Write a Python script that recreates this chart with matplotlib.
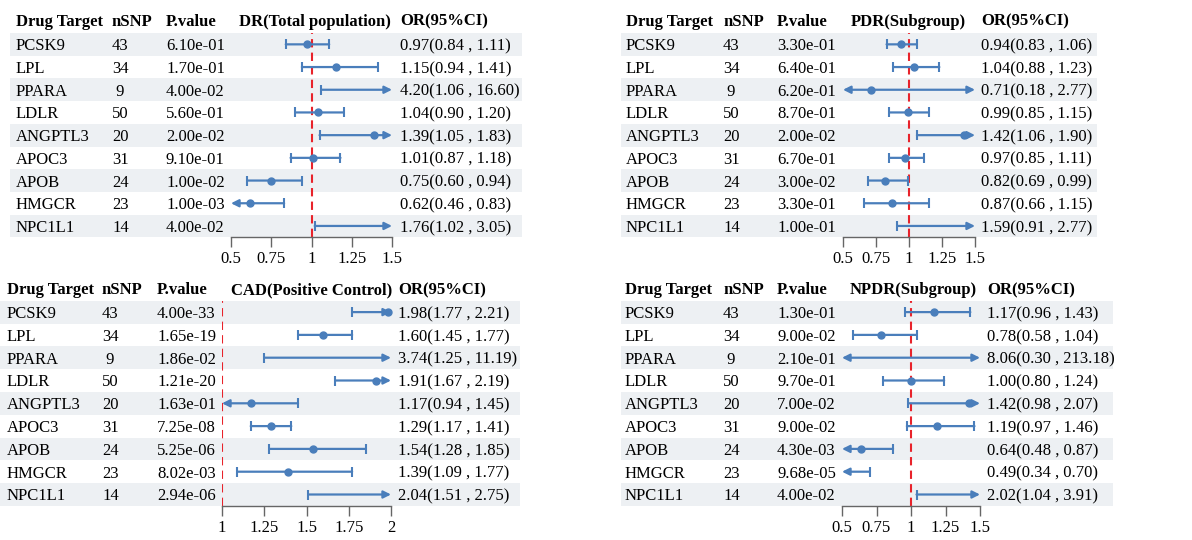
import numpy as np
import matplotlib
matplotlib.use("Agg")
import matplotlib.pyplot as plt

plt.rcParams['font.family'] = ['Liberation Serif', 'DejaVu Serif']

# ---- data ----
targets = ["PCSK9", "LPL", "PPARA", "LDLR", "ANGPTL3", "APOC3", "APOB", "HMGCR", "NPC1L1"]
nsnp = [43, 34, 9, 50, 20, 31, 24, 23, 14]

dr_p = [6.10e-01, 1.70e-01, 4.00e-02, 5.60e-01, 2.00e-02, 9.10e-01, 1.00e-02, 1.00e-03, 4.00e-02]
dr_or = [0.97, 1.15, 4.20, 1.04, 1.39, 1.01, 0.75, 0.62, 1.76]
dr_lo = [0.84, 0.94, 1.06, 0.90, 1.05, 0.87, 0.60, 0.46, 1.02]
dr_hi = [1.11, 1.41, 16.60, 1.20, 1.83, 1.18, 0.94, 0.83, 3.05]

pdr_p = [3.30e-01, 6.40e-01, 6.20e-01, 8.70e-01, 2.00e-02, 6.70e-01, 3.00e-02, 3.30e-01, 1.00e-01]
pdr_or = [0.94, 1.04, 0.71, 0.99, 1.42, 0.97, 0.82, 0.87, 1.59]
pdr_lo = [0.83, 0.88, 0.18, 0.85, 1.06, 0.85, 0.69, 0.66, 0.91]
pdr_hi = [1.06, 1.23, 2.77, 1.15, 1.90, 1.11, 0.99, 1.15, 2.77]

cad_p = [4.00e-33, 1.65e-19, 1.86e-02, 1.21e-20, 1.63e-01, 7.25e-08, 5.25e-06, 8.02e-03, 2.94e-06]
cad_or = [1.98, 1.60, 3.74, 1.91, 1.17, 1.29, 1.54, 1.39, 2.04]
cad_lo = [1.77, 1.45, 1.25, 1.67, 0.94, 1.17, 1.28, 1.09, 1.51]
cad_hi = [2.21, 1.77, 11.19, 2.19, 1.45, 1.41, 1.85, 1.77, 2.75]

npdr_p = [1.30e-01, 9.00e-02, 2.10e-01, 9.70e-01, 7.00e-02, 9.00e-02, 4.30e-03, 9.68e-05, 4.00e-02]
npdr_or = [1.17, 0.78, 8.06, 1.00, 1.42, 1.19, 0.64, 0.49, 2.02]
npdr_lo = [0.96, 0.58, 0.30, 0.80, 0.98, 0.97, 0.48, 0.34, 1.04]
npdr_hi = [1.43, 1.04, 213.18, 1.24, 2.07, 1.46, 0.87, 0.70, 3.91]

ticks_or = [0.5, 0.75, 1, 1.25, 1.5]
ticks_cad = [1, 1.25, 1.5, 1.75, 2]

# ---- layout (pixels) ----
W, H = 1192, 540
panels = [
    dict(title="DR(Total population)", p=dr_p, est=dr_or, lo=dr_lo, hi=dr_hi, ticks=ticks_or,
         band=(10, 522), top=33, rh=22.7, hy=19.5, name=16, n=112, pv=166, hci=239, ci=(231, 392), orx=400),
    dict(title="PDR(Subgroup)", p=pdr_p, est=pdr_or, lo=pdr_lo, hi=pdr_hi, ticks=ticks_or,
         band=(621, 1097), top=33, rh=22.7, hy=19.5, name=626, n=723, pv=777, hci=851, ci=(843, 975), orx=981),
    dict(title="CAD(Positive Control)", p=cad_p, est=cad_or, lo=cad_lo, hi=cad_hi, ticks=ticks_cad,
         band=(0, 520), top=300.7, rh=22.8, hy=288.5, name=7, n=102, pv=157, hci=231, ci=(222, 391), orx=398),
    dict(title="NPDR(Subgroup)", p=npdr_p, est=npdr_or, lo=npdr_lo, hi=npdr_hi, ticks=ticks_or,
         band=(621, 1113), top=300.7, rh=22.8, hy=288.5, name=625, n=723, pv=777, hci=850, ci=(842, 980), orx=987),
]

blue = "#4a7ebb"
band_col = "#edf0f3"
fs = 12

fig = plt.figure(figsize=(W / 100, H / 100), dpi=100)
bg = fig.add_axes([0, 0, 1, 1])
bg.set_xlim(0, W)
bg.set_ylim(H, 0)
bg.axis('off')

for pn in panels:
    nrow = len(targets)
    top, rh = pn['top'], pn['rh']
    # header
    for x, s in [(pn['name'], "Drug Target"), (pn['n'], "nSNP"), (pn['pv'], "P.value"),
                 (pn['hci'], pn['title']), (pn['orx'], "OR(95%CI)")]:
        bg.text(x, pn['hy'], s, fontsize=fs, fontweight='bold', va='center_baseline', ha='left')
    # rows
    for i in range(nrow):
        yc = top + (i + 0.5) * rh
        if i % 2 == 0:
            bg.add_patch(plt.Rectangle((pn['band'][0], top + i * rh), pn['band'][1] - pn['band'][0], rh,
                                       color=band_col, lw=0, zorder=0))
        bg.text(pn['name'], yc, targets[i], fontsize=fs, va='center_baseline', ha='left')
        bg.text(pn['n'], yc, "%2d" % nsnp[i], fontsize=fs, va='center_baseline', ha='left')
        bg.text(pn['pv'], yc, "%.2e" % pn['p'][i], fontsize=fs, va='center_baseline', ha='left')
        bg.text(pn['orx'], yc, "%.2f(%.2f , %.2f)" % (pn['est'][i], pn['lo'][i], pn['hi'][i]),
                fontsize=fs, va='center_baseline', ha='left')

    # CI column
    x0, x1 = pn['ci']
    ax = fig.add_axes([x0 / W, 1 - (top + nrow * rh) / H, (x1 - x0) / W, nrow * rh / H])
    ax.patch.set_alpha(0)
    xmin, xmax = pn['ticks'][0], pn['ticks'][-1]
    ax.set_xlim(xmin, xmax)
    ax.set_ylim(nrow, 0)
    for s in ['top', 'left', 'right']:
        ax.spines[s].set_visible(False)
    ax.spines['bottom'].set_color('#666666')
    ax.spines['bottom'].set_linewidth(1)
    ax.set_yticks([])
    ax.set_xticks(pn['ticks'])
    ax.set_xticklabels(["%g" % t for t in pn['ticks']])
    ax.tick_params(axis='x', length=7, width=1, color='#666666', labelsize=fs, pad=3)
    ax.axvline(1, color='#e8232b', lw=1.5, ls=(0, (4, 2.5)), zorder=1)

    for i in range(nrow):
        y = i + 0.5
        lo, hi, est = pn['lo'][i], pn['hi'][i], pn['est'][i]
        cl_lo, cl_hi = lo < xmin, hi > xmax
        a, b = max(lo, xmin), min(hi, xmax)
        style = {(True, True): '<|-|>', (False, True): '-|>', (True, False): '<|-', (False, False): '-'}[(cl_lo, cl_hi)]
        ax.annotate('', xy=(b, y), xytext=(a, y),
                    arrowprops=dict(arrowstyle=style, color=blue, lw=1.6, mutation_scale=11,
                                    shrinkA=0, shrinkB=0), zorder=3)
        if not cl_lo:
            ax.plot([lo], [y], marker='|', ms=7, mew=1.5, color=blue, zorder=3, clip_on=False)
        if not cl_hi:
            ax.plot([hi], [y], marker='|', ms=7, mew=1.5, color=blue, zorder=3, clip_on=False)
        if xmin <= est <= xmax:
            ax.plot([est], [y], marker='o', ms=5, color=blue, zorder=4, clip_on=False)

fig.savefig("out.png", dpi=100)
